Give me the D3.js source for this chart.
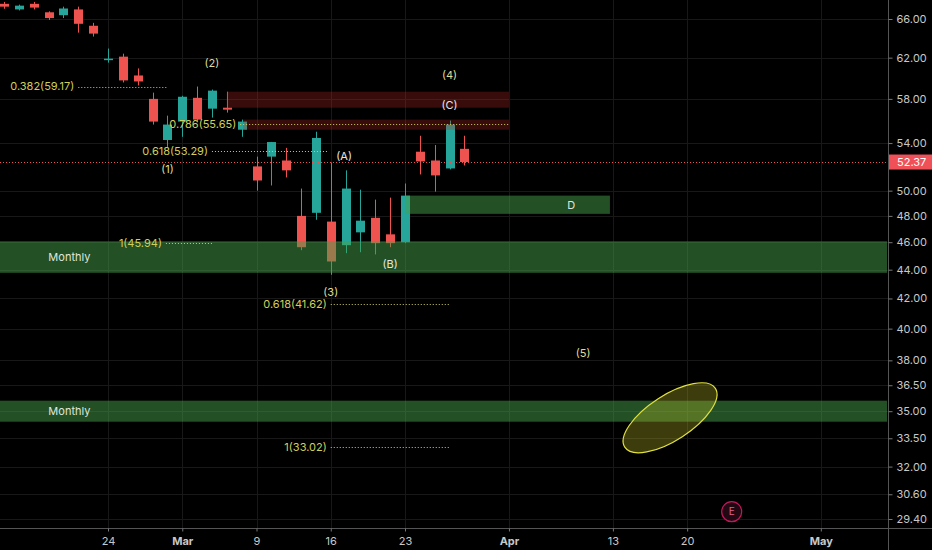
<!DOCTYPE html>
<meta charset="utf-8">
<html>
<head><title>Daily candles with wave count</title>
<script src="https://d3js.org/d3.v7.min.js"></script>
<style>
    body { margin: 0; background: #000; }
    text { font-family: Inter, "Noto Sans", sans-serif; }
</style>
</head>
<body>
<script>
// bar index 0 = Feb 24; future bars keep counting trading days
var barIdx = [-7, -6, -5, -4, -3, -2, -1, 0, 1, 2, 3, 4, 5, 6, 7, 8, 9, 10, 11, 12,
              13, 14, 15, 16, 17, 18, 19, 20, 21, 22, 23, 24];
var opens  = [67.64, 67.03, 67.64, 66.72, 66.41, 67.03, 65.28, 61.80, 62.10, 60.24, 58.00, 54.27,
              55.91, 58.10, 57.09, 57.18, 55.18, 52.00, 52.83, 52.50, 48.00, 48.24, 47.56, 45.78,
              46.74, 47.85, 46.59, 46.00, 53.25, 52.50, 51.83, 53.50];
var highs  = [67.85, 67.55, 67.85, 66.82, 67.33, 67.33, 65.59, 62.92, 62.40, 60.93, 58.59, 56.45,
              58.29, 59.17, 58.88, 58.68, 56.09, 52.83, 54.10, 53.58, 50.17, 55.00, 52.33, 51.67,
              50.08, 49.28, 49.44, 50.58, 54.64, 53.83, 56.00, 54.64];
var lows   = [67.10, 66.92, 67.03, 65.90, 66.10, 64.56, 64.15, 61.50, 59.56, 59.27, 55.64, 53.67,
              54.55, 55.91, 56.27, 56.73, 54.55, 50.00, 50.42, 51.08, 45.41, 47.70, 43.64, 45.19,
              45.26, 45.10, 45.63, 45.93, 51.33, 49.92, 51.75, 52.08];
var closes = [67.33, 67.44, 67.23, 66.10, 67.13, 65.49, 64.46, 61.90, 59.76, 59.66, 55.91, 55.64,
              58.20, 56.09, 58.78, 57.00, 55.91, 50.83, 54.09, 51.67, 45.63, 54.45, 44.59, 50.17,
              47.63, 45.93, 45.93, 49.60, 52.42, 51.25, 55.64, 52.37];
var lastPrice = 52.37;

var yTicks = [66, 62, 58, 54, 50, 48, 46, 44, 42, 40, 38, 36.5, 35, 33.5, 32, 30.6, 29.4];
var xTickLabels = ["24", "Mar", "9", "16", "23", "Apr", "13", "20", "May"];
var xTickIdx    = [0, 5, 10, 15, 20, 27, 34, 39, 48];
var xTickBold   = [false, true, false, false, false, true, false, false, true];

// zones: [start bar, end bar (null = to axis), top, bottom]
var greenZones = [[-8, null, 46.07, 43.78], [-8, null, 35.60, 34.41], [20, 33.8, 49.60, 48.16]];
var greenLabels = ["Monthly", "Monthly", "D"];
var greenLabelIdx = [-2.6, -2.6, 31.2];
var redZones = [[8, 27, 58.68, 57.18], [9.1, 27, 56.09, 55.18]];

// fib levels: label, price, line start bar, line end bar, label right edge bar
var fibLabels = ["0.382(59.17)", "0.786(55.65)", "0.618(53.29)", "1(45.94)", "0.618(41.62)", "1(33.02)"];
var fibPrices = [59.17, 55.65, 53.29, 45.94, 41.62, 33.02];
var fibFrom   = [-2.0, 8.9, 7.0, 3.9, 15.0, 15.0];
var fibTo     = [4.0, 27.0, 14.8, 7.0, 23.0, 23.0];

var waveLabels = ["(1)", "(2)", "(3)", "(4)", "(5)", "(A)", "(B)", "(C)"];
var waveIdx    = [4, 7, 15, 23, 32, 15.9, 19, 23];
var wavePrice  = [51.75, 61.41, 42.43, 60.24, 38.45, 52.83, 44.37, 57.45];

var ellipseIdx = 37.85, ellipsePrice = 34.63;
var eventIdx = 42, eventPrice = 29.75;

var width = 932, height = 550;
var axisX = 888, axisY = 528;

var svg = d3.select("body").append("svg")
    .attr("width", width)
    .attr("height", height)
    .style("background", "#000");

var x = d3.scaleLinear().domain([0, 48]).range([108, 108 + 48 * 14.85]);
var y = d3.scaleLog().domain([66, 29.4]).range([19, 519]);

// grid
svg.append("g").selectAll("line").data(yTicks).enter().append("line")
    .attr("x1", 0).attr("x2", axisX)
    .attr("y1", function(d) { return Math.round(y(d)) + 0.5; })
    .attr("y2", function(d) { return Math.round(y(d)) + 0.5; })
    .attr("stroke", "#181818");
svg.append("g").selectAll("line").data(xTickIdx).enter().append("line")
    .attr("x1", function(d) { return Math.round(x(d)) + 0.5; })
    .attr("x2", function(d) { return Math.round(x(d)) + 0.5; })
    .attr("y1", 0).attr("y2", axisY)
    .attr("stroke", "#181818");

// candles
var candles = barIdx.map(function(b, i) {
    return { b: b, o: opens[i], h: highs[i], l: lows[i], c: closes[i] };
});
var up = "#26a69a", down = "#ef5350";
var cg = svg.append("g");
cg.selectAll("line").data(candles).enter().append("line")
    .attr("x1", function(d) { return Math.round(x(d.b)) + 0.5; })
    .attr("x2", function(d) { return Math.round(x(d.b)) + 0.5; })
    .attr("y1", function(d) { return y(d.h); })
    .attr("y2", function(d) { return y(d.l); })
    .attr("stroke", function(d) { return d.c >= d.o ? up : down; });
cg.selectAll("rect").data(candles).enter().append("rect")
    .attr("x", function(d) { return Math.round(x(d.b)) - 4; })
    .attr("width", 9)
    .attr("y", function(d) { return y(Math.max(d.o, d.c)); })
    .attr("height", function(d) { return Math.max(1.5, y(Math.min(d.o, d.c)) - y(Math.max(d.o, d.c))); })
    .attr("fill", function(d) { return d.c >= d.o ? up : down; });

// zones (semi transparent, over the candles)
function zoneX2(z) { return z[1] === null ? axisX - 1 : x(z[1]); }
svg.append("g").selectAll("rect").data(redZones).enter().append("rect")
    .attr("x", function(d) { return x(d[0]); })
    .attr("width", function(d) { return zoneX2(d) - x(d[0]); })
    .attr("y", function(d) { return y(d[2]); })
    .attr("height", function(d) { return y(d[3]) - y(d[2]); })
    .attr("fill", "rgba(190,40,40,0.3)");
svg.append("g").selectAll("rect").data(greenZones).enter().append("rect")
    .attr("x", function(d) { return Math.max(0, x(d[0])); })
    .attr("width", function(d) { return zoneX2(d) - Math.max(0, x(d[0])); })
    .attr("y", function(d) { return y(d[2]); })
    .attr("height", function(d) { return y(d[3]) - y(d[2]); })
    .attr("fill", "rgba(70,160,74,0.5)");
svg.append("g").selectAll("text").data(greenZones).enter().append("text")
    .attr("x", function(d, i) { return x(greenLabelIdx[i]); })
    .attr("y", function(d) { return (y(d[2]) + y(d[3])) / 2; })
    .attr("dy", "0.35em")
    .attr("text-anchor", "middle")
    .attr("fill", "#dfe6df")
    .attr("font-size", 11)
    .text(function(d, i) { return greenLabels[i]; });

// fib levels
var fib = svg.append("g");
fib.selectAll("line").data(fibPrices).enter().append("line")
    .attr("x1", function(d, i) { return x(fibFrom[i]); })
    .attr("x2", function(d, i) { return x(fibTo[i]); })
    .attr("y1", function(d) { return Math.round(y(d)) + 0.5; })
    .attr("y2", function(d) { return Math.round(y(d)) + 0.5; })
    .attr("stroke", "#cfcf5a")
    .attr("stroke-dasharray", "1,2");
fib.selectAll("text").data(fibPrices).enter().append("text")
    .attr("x", function(d, i) { return x(fibFrom[i]) - 4; })
    .attr("y", function(d) { return y(d); })
    .attr("dy", "0.35em")
    .attr("text-anchor", "end")
    .attr("fill", "#cfcf5a")
    .attr("font-size", 11)
    .text(function(d, i) { return fibLabels[i]; });

// last price line
svg.append("line")
    .attr("x1", 0).attr("x2", axisX)
    .attr("y1", Math.round(y(lastPrice)) + 0.5).attr("y2", Math.round(y(lastPrice)) + 0.5)
    .attr("stroke", "#f05050")
    .attr("stroke-dasharray", "1,2");

// wave labels
svg.append("g").selectAll("text").data(waveLabels).enter().append("text")
    .attr("x", function(d, i) { return x(waveIdx[i]); })
    .attr("y", function(d, i) { return y(wavePrice[i]); })
    .attr("dy", "0.35em")
    .attr("text-anchor", "middle")
    .attr("font-size", 11)
    .attr("fill", function(d) { return /\d/.test(d) ? "#dede9a" : "#e6e6e6"; })
    .text(function(d) { return d; });

// target ellipse
svg.append("ellipse")
    .attr("transform", "translate(" + x(ellipseIdx) + "," + y(ellipsePrice) + ") rotate(-33)")
    .attr("rx", 54).attr("ry", 22.5)
    .attr("fill", "rgba(200,200,40,0.3)")
    .attr("stroke", "#e0e040")
    .attr("stroke-width", 1.2);

// event marker
var ev = svg.append("g").attr("transform", "translate(" + x(eventIdx) + "," + y(eventPrice) + ")");
ev.append("circle").attr("r", 10).attr("fill", "#220812").attr("stroke", "#c2185b").attr("stroke-width", 1.2);
ev.append("text").attr("dy", "0.35em").attr("text-anchor", "middle")
    .attr("font-size", 10).attr("fill", "#e06090").text("E");

// axes
svg.append("line").attr("x1", axisX + 0.5).attr("x2", axisX + 0.5).attr("y1", 0).attr("y2", height)
    .attr("stroke", "#555");
svg.append("line").attr("x1", 0).attr("x2", width).attr("y1", axisY + 0.5).attr("y2", axisY + 0.5)
    .attr("stroke", "#555");

var yAxis = d3.axisRight(y).tickValues(yTicks).tickFormat(d3.format(".2f")).tickSize(4).tickPadding(4);
var ya = svg.append("g").attr("transform", "translate(" + (axisX + 0.5) + ",0)").call(yAxis);
ya.select(".domain").remove();
ya.selectAll("line").attr("stroke", "#777");
ya.selectAll("text").attr("fill", "#c8c8c8").attr("font-size", 11)
    .attr("font-family", "Inter, 'Noto Sans', sans-serif");

var xAxis = d3.axisBottom(x).tickValues(xTickIdx).tickSize(3).tickPadding(6)
    .tickFormat(function(d, i) { return xTickLabels[i]; });
var xa = svg.append("g").attr("transform", "translate(0," + (axisY + 0.5) + ")").call(xAxis);
xa.select(".domain").remove();
xa.selectAll("line").attr("stroke", "#777");
xa.selectAll("text").attr("fill", "#c8c8c8").attr("font-size", 11)
    .attr("font-family", "Inter, 'Noto Sans', sans-serif")
    .attr("font-weight", function(d, i) { return xTickBold[i] ? "bold" : "normal"; });

// price label
var pl = svg.append("g").attr("transform", "translate(" + (axisX + 1) + "," + y(lastPrice) + ")");
pl.append("rect").attr("x", 0).attr("y", -7.5).attr("width", width - axisX - 1).attr("height", 15)
    .attr("fill", "#f05058");
pl.append("text").attr("x", 8).attr("dy", "0.35em").attr("font-size", 11).attr("fill", "#fff")
    .text(d3.format(".2f")(lastPrice));
</script>
</body>
</html>
